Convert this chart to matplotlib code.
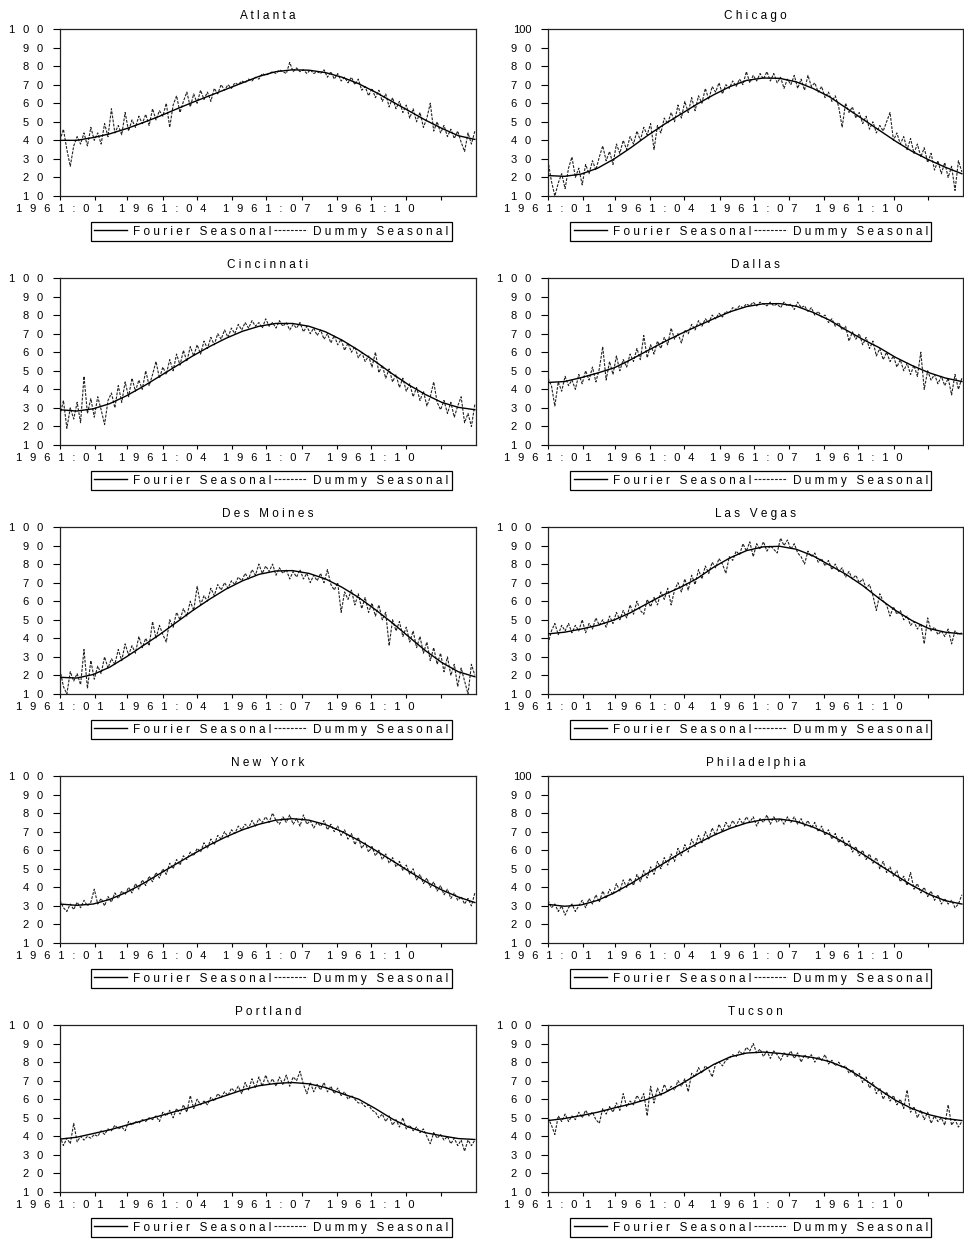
import numpy as np
import matplotlib.pyplot as plt

plt.rcParams['font.family'] = ['Liberation Sans', 'DejaVu Sans']

# Daily temperature, 1961: smooth Fourier fit and dummy-variable seasonal
cities = ['Atlanta', 'Chicago', 'Cincinnati', 'Dallas', 'Des Moines',
          'Las Vegas', 'New York', 'Philadelphia', 'Portland', 'Tucson']

atlanta_fourier = [40, 40, 41.5, 43.5, 46.3, 49.5, 53, 56.8, 60.5, 64, 67.5, 71, 74.5,
                   77, 78, 77.8, 76.5, 74, 70.5, 66, 61, 56, 51, 46.5, 42.5, 40.5]
atlanta_dummy = [40, 46, 35, 26, 37, 42, 38, 44, 37, 47, 40, 44, 38, 49, 42, 57, 44, 48, 43,
                 55, 45, 51, 47, 53, 49, 54, 48, 57, 51, 56, 53, 60, 47, 59, 64, 55, 61, 66,
                 58, 65, 60, 67, 62, 66, 61, 68, 65, 70, 67, 70, 68, 71, 70, 72, 71, 73, 72,
                 74, 73, 76, 75, 76, 77, 76, 78, 77, 76, 82, 77, 79, 77, 78, 76, 78, 76, 77,
                 76, 78, 74, 77, 73, 76, 72, 74, 71, 74, 70, 73, 67, 69, 64, 68, 63, 67, 61,
                 65, 58, 63, 57, 61, 55, 59, 52, 57, 50, 55, 47, 52, 60, 45, 50, 44, 48, 42,
                 46, 41, 45, 39, 34, 44, 38, 45]

chicago_fourier = [21, 20.6, 21.8, 25, 30, 36, 42.5, 48.5, 54, 59.5, 64.5, 69, 72.3,
                   73.6, 73.4, 71.5, 68, 63.5, 57.5, 51.5, 45.5, 39.5, 34, 29.5, 25.5, 22]
chicago_dummy = [29, 18, 10, 17, 22, 14, 25, 31, 20, 25, 16, 27, 22, 29, 24, 31, 37, 29, 34,
                 27, 38, 33, 40, 35, 42, 38, 45, 40, 47, 43, 49, 35, 48, 44, 52, 49, 55, 50,
                 59, 52, 61, 55, 63, 56, 64, 60, 68, 62, 69, 66, 71, 65, 70, 68, 72, 69, 73,
                 70, 77, 71, 75, 72, 76, 73, 77, 72, 76, 71, 74, 68, 73, 70, 75, 68, 73, 67,
                 75, 69, 71, 66, 69, 63, 66, 61, 64, 58, 47, 60, 55, 58, 52, 55, 49, 53, 46,
                 50, 44, 48, 45, 50, 55, 40, 44, 38, 42, 35, 41, 33, 38, 31, 36, 28, 33, 24,
                 29, 22, 28, 20, 26, 13, 29, 23]

cincinnati_fourier = [29, 28.3, 29.5, 32.3, 36.5, 41.5, 47, 52.5, 58, 63, 67.5, 71.3, 74,
                      75.5, 75.5, 74, 71, 66.5, 61, 55, 48.5, 42.5, 37.3, 33, 30.3, 29]
cincinnati_dummy = [26, 34, 19, 30, 24, 33, 22, 47, 27, 35, 25, 36, 29, 21, 34, 38, 30, 42,
                    33, 44, 36, 46, 39, 45, 40, 50, 42, 48, 55, 46, 52, 48, 56, 50, 59, 53,
                    61, 55, 63, 58, 64, 59, 66, 62, 68, 64, 70, 67, 72, 68, 73, 70, 75, 72,
                    76, 73, 77, 74, 76, 73, 78, 74, 76, 73, 77, 74, 76, 72, 75, 73, 76, 71,
                    74, 70, 73, 69, 72, 67, 70, 65, 69, 64, 67, 61, 65, 60, 63, 57, 60, 55,
                    58, 52, 60, 49, 53, 46, 51, 44, 48, 41, 46, 39, 43, 36, 41, 34, 39, 31,
                    36, 44, 33, 29, 34, 27, 33, 25, 31, 36, 22, 27, 20, 32]

dallas_fourier = [43.7, 44.2, 46.3, 48.8, 51.6, 56.0, 60.8, 65.5, 69.9, 74.0, 78.0, 81.8,
                  84.6, 86.1, 86.2, 84.8, 81.5, 77.3, 72.0, 67.0, 62.5, 57.2, 52.8, 49.0,
                  46.1, 44.2]
dallas_dummy = [46, 42, 31, 44, 39, 47, 42, 45, 40, 48, 43, 50, 45, 52, 44, 51, 63, 45, 55,
                48, 58, 50, 56, 52, 59, 55, 62, 56, 69, 57, 64, 59, 66, 62, 68, 64, 73, 67,
                70, 65, 72, 70, 75, 72, 77, 74, 78, 76, 80, 78, 81, 79, 82, 81, 84, 83, 85,
                84, 86, 85, 87, 85, 87, 86, 85, 87, 85, 86, 84, 87, 85, 86, 83, 87, 84, 85,
                82, 84, 80, 82, 79, 80, 76, 78, 74, 76, 72, 74, 66, 71, 67, 70, 64, 68, 62,
                66, 58, 62, 56, 60, 55, 58, 52, 56, 50, 54, 48, 53, 47, 60, 40, 50, 45, 48,
                43, 47, 42, 46, 37, 48, 40, 46]

desmoines_fourier = [19, 18.6, 20.5, 24.5, 30, 36, 42, 48.5, 55, 61, 66.5, 71, 74.5, 76.3,
                     76.5, 75, 72, 67.5, 62, 55.5, 48.5, 41, 33.5, 27, 22, 19.3]
desmoines_dummy = [23, 14, 10, 22, 17, 21, 15, 34, 13, 28, 18, 25, 21, 30, 24, 29, 26, 34,
                   28, 37, 31, 36, 32, 41, 35, 40, 36, 49, 40, 47, 42, 38, 50, 46, 54, 50,
                   56, 52, 60, 55, 68, 58, 63, 60, 67, 63, 69, 66, 70, 67, 71, 69, 73, 71,
                   75, 72, 77, 74, 80, 75, 79, 76, 80, 74, 78, 75, 77, 72, 76, 73, 77, 72,
                   75, 70, 74, 71, 75, 70, 77, 69, 66, 70, 54, 65, 61, 66, 58, 64, 56, 62,
                   54, 59, 52, 58, 50, 54, 36, 50, 44, 49, 41, 46, 38, 44, 35, 41, 32, 38,
                   28, 35, 26, 32, 22, 30, 20, 26, 14, 24, 17, 10, 26, 20]

lasvegas_fourier = [42.4, 43.3, 45.0, 47.0, 49.9, 53.9, 58.8, 63.5, 67.5, 72.2, 78.3, 83.4,
                    87.3, 89.3, 89.6, 88.0, 84.5, 79.5, 74.5, 68.5, 61.5, 55.0, 49.5, 45.3,
                    43.3, 42.4]
lasvegas_dummy = [37, 44, 48, 42, 47, 44, 48, 43, 47, 44, 50, 43, 48, 45, 51, 47, 50, 46, 52,
                  48, 54, 50, 55, 51, 58, 53, 60, 55, 53, 61, 57, 62, 58, 65, 61, 67, 58, 66,
                  70, 65, 72, 66, 74, 69, 77, 72, 79, 75, 81, 78, 83, 80, 75, 84, 82, 87, 85,
                  91, 87, 92, 84, 91, 88, 92, 87, 90, 88, 86, 94, 90, 93, 88, 91, 86, 84, 80,
                  87, 84, 86, 81, 83, 79, 82, 77, 80, 76, 78, 73, 76, 72, 74, 70, 72, 67, 69,
                  63, 55, 64, 60, 58, 52, 57, 53, 55, 50, 52, 47, 49, 45, 48, 37, 51, 44, 46,
                  42, 44, 41, 45, 37, 44, 42, 43]

newyork_fourier = [31, 30.3, 31, 33.5, 37.3, 42, 47.3, 52.6, 57.8, 62.8, 67.2, 71, 74,
                   76.2, 77, 76.2, 73.8, 70, 65.3, 60, 54.5, 48.8, 43.3, 38.6, 34.8, 31.8]
newyork_dummy = [33, 29, 27, 31, 28, 32, 29, 33, 30, 32, 39, 31, 34, 30, 35, 32, 37, 34, 38,
                 36, 40, 37, 42, 39, 44, 41, 46, 43, 48, 45, 50, 47, 53, 50, 55, 52, 57, 55,
                 59, 57, 61, 59, 64, 61, 66, 63, 68, 66, 70, 67, 71, 69, 73, 71, 74, 72, 76,
                 73, 77, 75, 78, 75, 80, 76, 74, 78, 75, 79, 74, 77, 73, 79, 74, 76, 72, 75,
                 73, 76, 71, 74, 70, 73, 68, 71, 66, 69, 63, 67, 61, 64, 59, 62, 57, 60, 55,
                 58, 53, 56, 51, 54, 49, 52, 47, 50, 44, 47, 42, 45, 40, 43, 38, 41, 36, 39,
                 34, 37, 33, 35, 31, 34, 30, 37]

philadelphia_fourier = [30.8, 29.8, 30.5, 33, 37, 42, 47.5, 53, 58.5, 63.5, 68, 71.8, 74.7,
                        76.5, 76.8, 75.5, 72.5, 68.5, 63.5, 58, 52.2, 46.5, 41, 36.3, 32.8, 31]
philadelphia_dummy = [33, 29, 31, 27, 30, 25, 29, 31, 27, 30, 33, 29, 34, 31, 36, 32, 38, 34,
                      39, 36, 42, 38, 44, 40, 45, 41, 47, 43, 49, 45, 51, 47, 54, 50, 56, 52,
                      58, 54, 61, 57, 63, 59, 66, 62, 68, 64, 70, 66, 72, 68, 74, 70, 75, 72,
                      76, 73, 77, 74, 78, 75, 78, 73, 77, 75, 79, 74, 78, 75, 77, 74, 78, 75,
                      78, 74, 77, 73, 76, 72, 75, 70, 73, 68, 71, 66, 69, 64, 67, 62, 65, 59,
                      62, 57, 60, 55, 58, 53, 56, 50, 54, 48, 51, 46, 49, 43, 46, 41, 48, 39,
                      42, 37, 40, 35, 38, 33, 36, 31, 34, 31, 33, 29, 31, 36]

portland_fourier = [38.5, 39.5, 41.5, 43.5, 46, 48.5, 51, 53.5, 56, 59, 62, 65, 67.3, 68.5,
                    69, 68.3, 66.3, 63, 60, 55, 49.5, 45, 42, 40.3, 38.8, 38.3]
portland_dummy = [40, 35, 39, 36, 47, 37, 40, 38, 40, 39, 41, 40, 43, 41, 44, 43, 46, 44, 45,
                  43, 48, 46, 48, 47, 49, 48, 50, 49, 51, 48, 53, 51, 54, 50, 55, 52, 57, 53,
                  62, 55, 60, 57, 59, 57, 61, 59, 63, 61, 64, 62, 66, 64, 67, 63, 69, 65, 71,
                  66, 72, 67, 73, 68, 71, 67, 72, 68, 73, 67, 72, 70, 75, 68, 63, 69, 64, 68,
                  65, 69, 64, 67, 63, 66, 62, 64, 60, 62, 60, 58, 58, 56, 57, 54, 53, 50, 52,
                  48, 51, 46, 49, 45, 50, 44, 46, 43, 45, 42, 44, 40, 36, 42, 39, 41, 38, 40,
                  36, 39, 35, 38, 32, 38, 35, 38]

tucson_fourier = [48.5, 49.6, 51.2, 53.0, 55.3, 57.4, 60.0, 63.3, 68.0, 73.3, 78.7, 82.8,
                  84.9, 85.4, 84.7, 83.6, 82.5, 80.3, 76.8, 71.4, 65.2, 59.4, 54.9, 51.7,
                  49.6, 48.5]
tucson_dummy = [50, 46, 41, 51, 48, 52, 48, 51, 49, 53, 50, 54, 51, 53, 49, 47, 55, 52, 56,
                53, 58, 54, 63, 56, 59, 57, 62, 59, 63, 51, 67, 58, 66, 62, 68, 64, 67, 65,
                70, 67, 71, 64, 74, 72, 77, 74, 78, 76, 72, 79, 80, 78, 81, 82, 84, 83, 86,
                84, 88, 86, 90, 85, 87, 83, 86, 82, 86, 84, 81, 85, 83, 86, 82, 85, 80, 84,
                82, 84, 80, 83, 81, 84, 79, 81, 78, 80, 77, 78, 74, 76, 72, 74, 69, 72, 66,
                69, 63, 66, 60, 64, 59, 62, 57, 60, 55, 65, 53, 56, 50, 54, 49, 53, 47, 51,
                48, 50, 46, 57, 46, 49, 45, 48]

fourier = [atlanta_fourier, chicago_fourier, cincinnati_fourier, dallas_fourier,
           desmoines_fourier, lasvegas_fourier, newyork_fourier, philadelphia_fourier,
           portland_fourier, tucson_fourier]
dummy = [atlanta_dummy, chicago_dummy, cincinnati_dummy, dallas_dummy, desmoines_dummy,
         lasvegas_dummy, newyork_dummy, philadelphia_dummy, portland_dummy, tucson_dummy]

month_starts = [0, 31, 59, 90, 120, 151, 181, 212, 243, 273, 304, 334]
month_labels = ['1961:01', '', '', '1961:04', '', '', '1961:07', '', '', '1961:10', '', '']
y_ticks = [10, 20, 30, 40, 50, 60, 70, 80, 90, 100]
tight_top = ['Chicago', 'Philadelphia']


def spread(s, gap=' '):
    # letter-spaced text, the way the old plotting program printed it
    return gap.join(s)


W, H = 964, 1245
fig = plt.figure(figsize=(W / 100, H / 100), dpi=100)

col_left = [60, 548]
col_width = [416, 415]
leg_center = [0.508, 0.489]
tick_gap = '\u2002\u2009'

for i, name in enumerate(cities):
    row, col = divmod(i, 2)
    top = 29 + 249 * row
    ax = fig.add_axes([col_left[col] / W, 1 - (top + 167) / H, col_width[col] / W, 167 / H])

    f = fourier[i]
    d = dummy[i]
    xf = np.linspace(0, 364, len(f))
    xd = np.linspace(0, 364, len(d))
    l1, = ax.plot(xf, f, color='black', lw=1.0, zorder=3)
    l2, = ax.plot(xd, d, color='#222222', lw=0.8, ls=(0, (2.5, 1.2)), zorder=2)

    ax.set_xlim(0, 365)
    ax.set_ylim(10, 100)
    ax.set_xticks(month_starts)
    ax.set_xticklabels([spread(m, tick_gap) for m in month_labels], fontsize=8)
    ax.set_yticks(y_ticks)
    ylabels = [spread(str(v), tick_gap) for v in y_ticks]
    if name in tight_top:
        ylabels[-1] = '100'
    ax.set_yticklabels(ylabels, fontsize=8)
    ax.tick_params(axis='x', direction='out', length=3, width=0.8, pad=3)
    ax.tick_params(axis='y', direction='out', length=5, width=0.8, pad=7)
    for sp in ax.spines.values():
        sp.set_linewidth(0.9)
        sp.set_color('#222222')

    ax.set_title(spread(name), fontsize=8.5, pad=7)

    leg = ax.legend([l1, l2], [spread('Fourier Seasonal'), spread('Dummy Seasonal')],
                    loc='upper center', bbox_to_anchor=(leg_center[col], -0.156),
                    ncol=2, fontsize=8.5, frameon=True, fancybox=False, framealpha=1,
                    edgecolor='black', borderpad=0.3, handlelength=2.8,
                    handletextpad=0.5, columnspacing=0.2, borderaxespad=0)
    leg.get_frame().set_linewidth(0.9)

fig.savefig('out.png', dpi=100)
